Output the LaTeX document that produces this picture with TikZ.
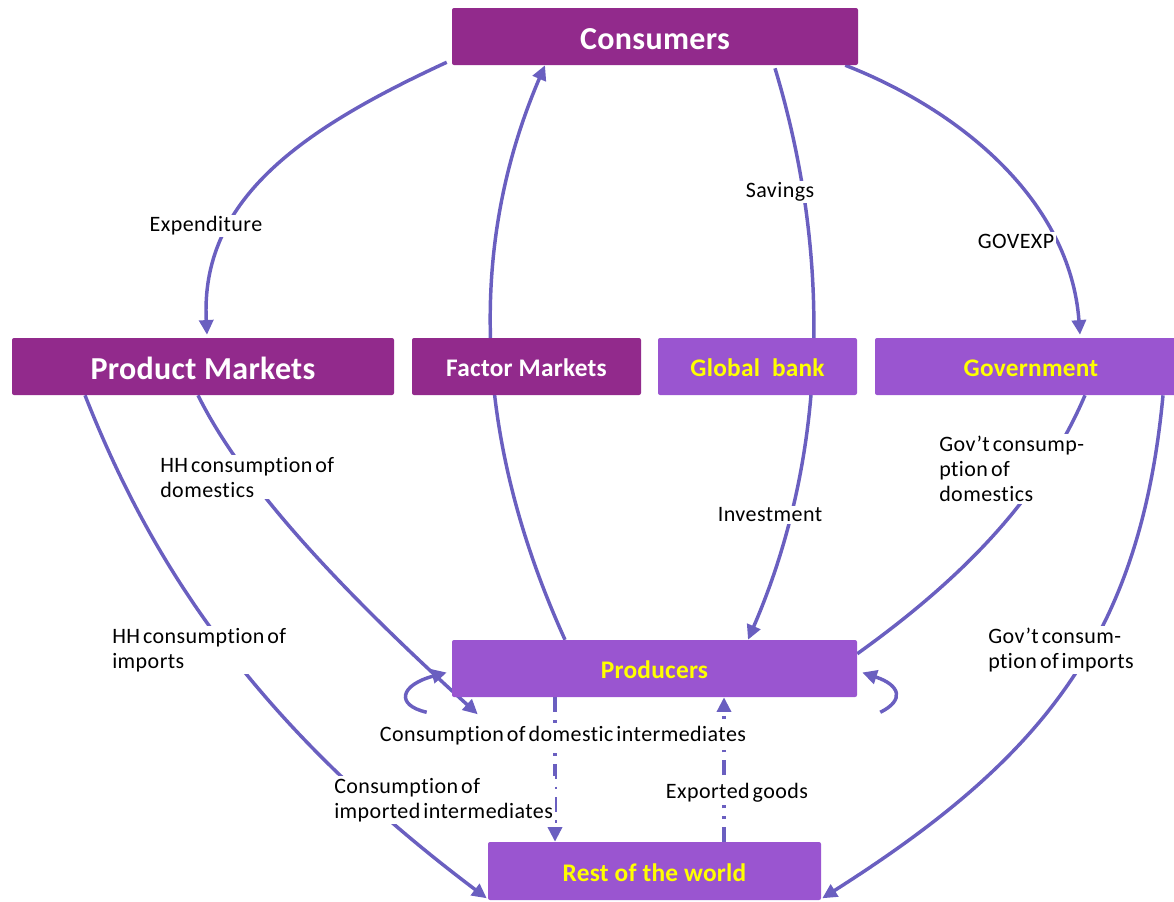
\documentclass[tikz,border=0pt]{standalone}
\usepackage{fontspec}
\setmainfont{Carlito}[Ligatures={TeX,NoCommon}, LetterSpace=1]
\newfontfamily\lblfont{Carlito}[Ligatures={TeX,NoCommon}, LetterSpace=2, WordSpace=0.55]
\usetikzlibrary{arrows.meta,calc,backgrounds}
\definecolor{darkbox}{HTML}{922A8C}
\definecolor{lightbox}{HTML}{9A55D0}
\definecolor{flow}{HTML}{6A5FC0}
\definecolor{ylw}{HTML}{FFFF00}
\begin{document}
\begin{tikzpicture}[x=0.75pt,y=-0.75pt,
  box/.style={rectangle, rounded corners=1.5pt, minimum height=42.75pt, inner sep=0pt, text height=15.5pt, text depth=0pt, font=\bfseries\fontsize{19}{22}\selectfont},
  dbox/.style={box, fill=darkbox, text=white},
  lbox/.style={box, fill=lightbox, text=ylw},
  bigtext/.style={text height=20pt, font=\bfseries\fontsize{24}{28}\selectfont},
  lbl/.style={fill=white, inner sep=1.5pt, font=\lblfont\fontsize{16.5}{18.75}\selectfont, align=left},
  flowplain/.style={draw=flow, line width=2.6pt},
  flowline/.style={flowplain, -{Triangle[length=11pt,width=10.5pt]}},
  dashpat/.style={dash pattern=on 11pt off 6pt on 2pt off 6pt}
]
\useasboundingbox (0,0) rectangle (1174,901);

% boxes
\node[dbox, bigtext, minimum width=304.5pt] (cons) at (655,36.5) {Consumers};
\node[dbox, bigtext, minimum width=286.5pt] (pm) at (203,366.5) {Product Markets};
\node[dbox, minimum width=171.75pt] (fm) at (526.5,366.5) {Factor Markets};
\node[lbox, minimum width=149.25pt] (gb) at (757.5,366.5) {Global\ \ bank};
\node[lbox, minimum width=234pt] (gov) at (1031,366.5) {Government};
\node[lbox, minimum width=303.75pt] (prod) at (654.5,668.5) {Producers};
\node[lbox, minimum width=249.75pt, minimum height=43.5pt] (row) at (654.5,871) {Rest of the world};

% connectors
\begin{scope}[on background layer]
\draw[flowline] ($(cons.south west)+(-5,-3)$) .. controls (300,130) and (200,200) .. ($(pm.north)+(4,-3)$);
\draw[flowline] ($(prod.north)+(-89.5,0)$) .. controls (470,430) and (470,240) .. ($(cons.south)+(-110,0)$);
\draw[flowline] ($(cons.south)+(120,3)$) .. controls (830,250) and (830,450) .. ($(prod.north)+(93.5,0)$);
\draw[flowline] ($(cons.south east)+(-13,0)$) .. controls (960,110) and (1070,200) .. ($(gov.north)+(49,-3)$);
\draw[flowline] ($(pm.south)+(-5,0)$) .. controls (240,480) and (330,580) .. ($(prod.south west)+(26,17)$);
\draw[flowline] ($(pm.south)+(-118,0)$) .. controls (150,560) and (250,720) .. ($(row.south west)+(-1,-2)$);
\draw[flowplain] ($(gov.south)+(54,0)$) .. controls (1040,500) and (960,580) .. ($(prod.north east)+(0,14)$);
\draw[flowline] ($(gov.south)+(132,0)$) .. controls (1140,640) and (1040,760) .. ($(row.south east)+(1,-2)$);
\draw[flowline] ($(prod.south west)+(-25,15)$) .. controls (395,705) and (400,685) .. ($(prod.west)+(-5,4)$);
\draw[flowline] ($(prod.south east)+(23,15)$) .. controls (905,700) and (900,685) .. ($(prod.east)+(5,4)$);
\draw[flowline, dashpat] ($(prod.south)+(-99.5,0)$) -- ($(row.north)+(-99.5,0)$);
\draw[flowline, dashpat] ($(row.north)+(69.5,0)$) -- ($(prod.south)+(69.5,0)$);
\end{scope}

% labels
\node[lbl] (lexp) at (206,226) {Expenditure};
\node[lbl] (lsav) at (780,192) {Savings};
\node[lbl] (lgovexp) at (1016,241) {GOVEXP};
\node[lbl] (linv) at (770,515) {Investment};
\node[lbl, anchor=west] (lhhd) at (158,477) {HH consumption of\\domestics};
\node[lbl, anchor=west] (lgd) at (937,469) {Gov’t consump-\\ption of\\domestics};
\node[lbl, anchor=west] (lhhi) at (110,650) {HH consumption of\\imports};
\node[lbl, anchor=west] (lgi) at (986,650) {Gov’t consum-\\ption of imports};
\node[lbl, anchor=west] (lcii) at (332,800) {Consumption of\\imported intermediates};
\node[lbl] (lcdi) at (563,736) {Consumption of domestic intermediates};
\node[lbl] (lexg) at (737,793) {Exported goods};
\end{tikzpicture}
\end{document}
